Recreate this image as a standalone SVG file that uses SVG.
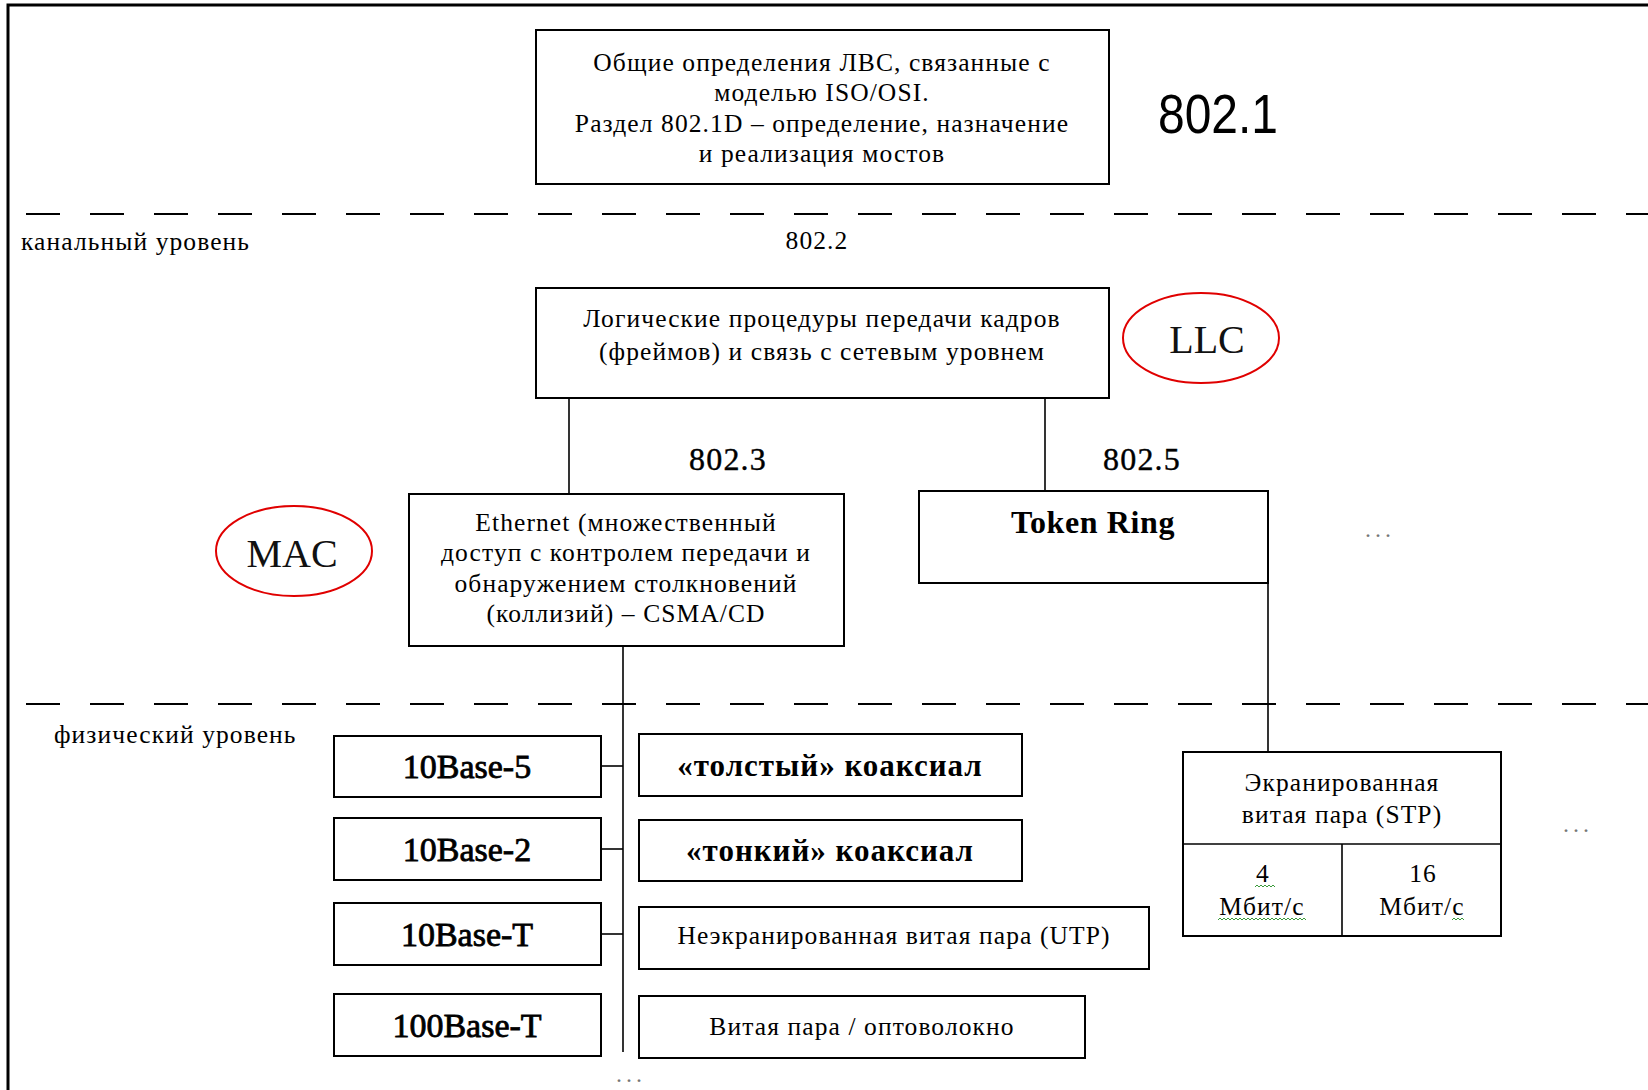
<svg xmlns="http://www.w3.org/2000/svg" width="1648" height="1090" viewBox="0 0 1648 1090">
  <style>
    .box { fill: #fff; stroke: #000; stroke-width: 2; }
    .wire { fill: none; stroke: #000; stroke-width: 1.6; }
    .dash { fill: none; stroke: #000; stroke-width: 2; stroke-dasharray: 34 30; }
    .oval { fill: none; stroke: #e00000; stroke-width: 2; }
    .t { font-family: "Liberation Serif", "Times New Roman", serif; font-size: 25.5px; letter-spacing: 1.1px; fill: #000; text-anchor: middle; }
    .lbl { font-family: "Liberation Serif", "Times New Roman", serif; font-size: 25.5px; letter-spacing: 1.1px; fill: #000; }
    .b { font-family: "Liberation Serif", "Times New Roman", serif; font-weight: bold; fill: #000; text-anchor: middle; }
    .std { font-family: "Liberation Serif", "Times New Roman", serif; font-size: 34px; fill: #000; stroke: #000; stroke-width: 0.8; text-anchor: middle; }
    .num { font-family: "Liberation Serif", "Times New Roman", serif; font-size: 32px; letter-spacing: 1.2px; fill: #000; text-anchor: middle; stroke: #000; stroke-width: 0.4; }
    .big { font-family: "Liberation Serif", "Times New Roman", serif; font-size: 40px; fill: #111; text-anchor: middle; }
    .dots { font-family: "Liberation Serif", serif; font-size: 24px; letter-spacing: 4px; fill: #777; text-anchor: middle; }
    .squig { fill: none; stroke: #3a9a3a; stroke-width: 1; }
  </style>

  <!-- page frame -->
  <path d="M8,1090 V5 H1648" fill="none" stroke="#000" stroke-width="3"/>

  <!-- layer separators -->
  <g id="separators">
    <line class="dash" x1="26" y1="214" x2="1648" y2="214"/>
    <line class="dash" x1="26" y1="704" x2="1648" y2="704"/>
    <text class="lbl" x="21" y="250">канальный уровень</text>
    <text class="lbl" x="54" y="743">физический уровень</text>
  </g>

  <!-- connectors -->
  <g id="connectors">
    <line class="wire" x1="569" y1="398" x2="569" y2="494"/>
    <line class="wire" x1="1045" y1="398" x2="1045" y2="491"/>
    <line class="wire" x1="623" y1="646" x2="623" y2="1052"/>
    <line class="wire" x1="601" y1="766" x2="623" y2="766"/>
    <line class="wire" x1="601" y1="849" x2="623" y2="849"/>
    <line class="wire" x1="601" y1="934" x2="623" y2="934"/>
    <line class="wire" x1="1268" y1="583" x2="1268" y2="752"/>
  </g>

  <g id="n8021">
    <rect class="box" x="536" y="30" width="573" height="154"/>
    <text class="t" x="822" y="71">Общие определения ЛВС, связанные с</text>
    <text class="t" x="822" y="101">моделью ISO/OSI.</text>
    <text class="t" x="822" y="132">Раздел 802.1D – определение, назначение</text>
    <text class="t" x="822" y="162">и реализация мостов</text>
  </g>
  <g id="label8021">
    <text x="1158" y="133" font-family="'Liberation Sans', Arial, sans-serif" font-size="56" textLength="120" lengthAdjust="spacingAndGlyphs" fill="#000">802.1</text>
  </g>

  <g id="label8022">
    <text class="t" x="817" y="249">802.2</text>
  </g>

  <g id="llc">
    <rect class="box" x="536" y="288" width="573" height="110"/>
    <text class="t" x="822" y="327">Логические процедуры передачи кадров</text>
    <text class="t" x="822" y="360">(фреймов) и связь с сетевым уровнем</text>
  </g>
  <g id="llc-tag">
    <ellipse class="oval" cx="1201" cy="338" rx="78" ry="45"/>
    <text class="big" x="1207" y="353">LLC</text>
  </g>

  <g id="label8023"><text class="num" x="728" y="470">802.3</text></g>
  <g id="label8025"><text class="num" x="1142" y="470">802.5</text></g>

  <g id="mac-tag">
    <ellipse class="oval" cx="294" cy="551" rx="78" ry="45"/>
    <text class="big" x="292" y="567">MAC</text>
  </g>

  <g id="ethernet">
    <rect class="box" x="409" y="494" width="435" height="152"/>
    <text class="t" x="626" y="531">Ethernet (множественный</text>
    <text class="t" x="626" y="561">доступ с контролем передачи и</text>
    <text class="t" x="626" y="592">обнаружением столкновений</text>
    <text class="t" x="626" y="622">(коллизий) – CSMA/CD</text>
  </g>

  <g id="tokenring">
    <rect class="box" x="919" y="491" width="349" height="92"/>
    <text class="b" x="1093" y="533" font-size="32" letter-spacing="0.6">Token Ring</text>
  </g>
  <g id="more-mac"><text class="dots" x="1380" y="537">...</text></g>

  <g id="b10base5">
    <rect class="box" x="334" y="736" width="267" height="61"/>
    <text class="std" x="467" y="778">10Base-5</text>
  </g>
  <g id="b10base2">
    <rect class="box" x="334" y="818" width="267" height="62"/>
    <text class="std" x="467" y="861">10Base-2</text>
  </g>
  <g id="b10baset">
    <rect class="box" x="334" y="903" width="267" height="62"/>
    <text class="std" x="467" y="946">10Base-T</text>
  </g>
  <g id="b100baset">
    <rect class="box" x="334" y="994" width="267" height="62"/>
    <text class="std" x="467" y="1037">100Base-T</text>
  </g>

  <g id="thick">
    <rect class="box" x="639" y="734" width="383" height="62"/>
    <text class="b" x="830" y="776" font-size="31" letter-spacing="1">«толстый» коаксиал</text>
  </g>
  <g id="thin">
    <rect class="box" x="639" y="820" width="383" height="61"/>
    <text class="b" x="830" y="861" font-size="31" letter-spacing="1">«тонкий» коаксиал</text>
  </g>
  <g id="utp">
    <rect class="box" x="639" y="907" width="510" height="62"/>
    <text class="t" x="894" y="944">Неэкранированная витая пара (UTP)</text>
  </g>
  <g id="fiber">
    <rect class="box" x="639" y="996" width="446" height="62"/>
    <text class="t" x="862" y="1035">Витая пара / оптоволокно</text>
  </g>
  <g id="more-eth"><text class="dots" x="631" y="1082">...</text></g>

  <g id="stp">
    <rect class="box" x="1183" y="752" width="318" height="184"/>
    <line class="wire" x1="1183" y1="844" x2="1501" y2="844"/>
    <line class="wire" x1="1342" y1="844" x2="1342" y2="936"/>
    <text class="t" x="1342" y="791">Экранированная</text>
    <text class="t" x="1342" y="823">витая пара (STP)</text>
    <text class="t" x="1263" y="882">4</text>
    <text class="t" x="1262" y="915">Мбит/с</text>
    <text class="t" x="1423" y="882">16</text>
    <text class="t" x="1422" y="915">Мбит/с</text>
    <path class="squig" d="M1255,887 l2,-2 l2,2 l2,-2 l2,2 l2,-2 l2,2 l2,-2 l2,2 l2,-2 l2,2"/>
    <path class="squig" d="M1218,920 l2,-2 l2,2 l2,-2 l2,2 l2,-2 l2,2 l2,-2 l2,2 l2,-2 l2,2 l2,-2 l2,2 l2,-2 l2,2 l2,-2 l2,2 l2,-2 l2,2 l2,-2 l2,2 l2,-2 l2,2 l2,-2 l2,2 l2,-2 l2,2 l2,-2 l2,2 l2,-2 l2,2 l2,-2 l2,2 l2,-2 l2,2 l2,-2 l2,2 l2,-2 l2,2 l2,-2 l2,2 l2,-2 l2,2 l2,-2 l2,2"/>
    <path class="squig" d="M1452,920 l2,-2 l2,2 l2,-2 l2,2 l2,-2 l2,2"/>
  </g>
  <g id="more-phy"><text class="dots" x="1578" y="832">...</text></g>
</svg>
